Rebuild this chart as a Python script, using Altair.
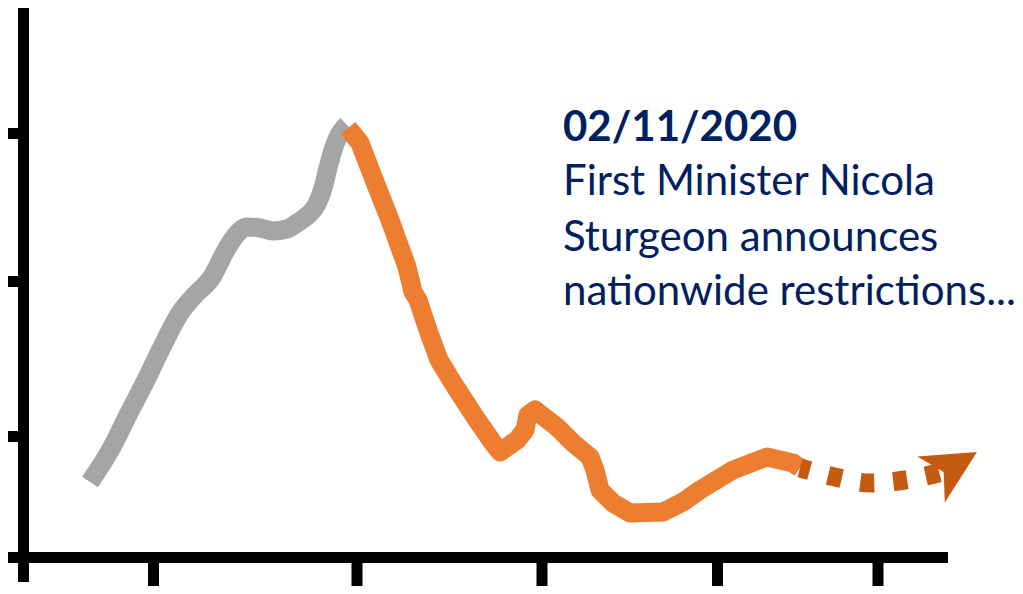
import altair as alt
import pandas as pd

# Gray series (before 02/11/2020) - x position, value
gray_x = [90, 112, 129, 146, 162, 180, 194, 212, 226, 236, 247, 260, 273, 287, 297, 308, 317, 323, 328, 333, 338, 347]
gray_y = [112, 147, 181, 214, 247, 281, 298, 317, 344, 359, 367, 366, 363, 365, 371, 379, 390, 406, 426, 444, 457, 469]

# Orange series (after 02/11/2020)
orange_x = [348, 360, 373, 390, 407, 413, 418, 429, 439, 453, 475, 493, 500, 517, 525, 528, 535, 557, 573, 590, 595, 600,
            613, 630, 663, 683, 700, 733, 767, 793, 800]
orange_y = [466, 451, 417, 374, 327, 302, 294, 261, 234, 211, 177, 151, 142, 154, 164, 179, 184, 167, 151, 137, 124, 104,
            91, 81, 82, 92, 104, 124, 137, 131, 126]

# Projected (dashed) continuation
proj_x = [800, 835, 870, 905, 942]
proj_y = [126, 117, 111, 114, 122]

# Arrow head
arrow_x = [954]
arrow_y = [128.3]

# Axis ticks
x_ticks = [153.5, 357, 542, 717.5, 878]
y_ticks = [157.5, 312.5, 460.5]

# Annotation text
title_line = ["02/11/2020"]
title_y = [453.3]
text_lines = ["First Minister Nicola", "Sturgeon announces", "nationwide restrictions..."]
text_y = [399, 343.3, 289]
text_x = 563

W, H = 1007, 578
xs = alt.Scale(domain=[8, 8 + W], nice=False, zero=False)
ys = alt.Scale(domain=[8, 8 + H], nice=False, zero=False)

gray_df = pd.DataFrame({"x": gray_x, "y": gray_y, "i": range(len(gray_x))})
orange_df = pd.DataFrame({"x": orange_x, "y": orange_y, "i": range(len(orange_x))})
proj_df = pd.DataFrame({"x": proj_x, "y": proj_y, "i": range(len(proj_x))})
arrow_df = pd.DataFrame({"x": arrow_x, "y": arrow_y})
xt_df = pd.DataFrame({"x": x_ticks, "y": [8] * len(x_ticks), "y2": [36.5] * len(x_ticks)})
yt_df = pd.DataFrame({"y": y_ticks, "x": [8] * len(y_ticks), "x2": [23.5] * len(y_ticks)})
yaxis_df = pd.DataFrame({"x": [23.5], "y": [12], "y2": [586]})
xaxis_df = pd.DataFrame({"y": [36.5], "x": [8], "x2": [948]})
title_df = pd.DataFrame({"t": title_line, "y": title_y, "x": [text_x]})
text_df = pd.DataFrame({"t": text_lines, "y": text_y, "x": [text_x] * len(text_lines)})


def X(f="x"):
    return alt.X(f"{f}:Q", scale=xs, axis=None)


def Y(f="y"):
    return alt.Y(f"{f}:Q", scale=ys, axis=None)


LW = 19
gray = alt.Chart(gray_df).mark_line(color="#A5A5A5", strokeWidth=LW, interpolate="monotone",
                                    strokeCap="butt", strokeJoin="round").encode(
    x=X(), y=Y(), order="i:Q")
orange = alt.Chart(orange_df).mark_line(color="#ED7D31", strokeWidth=LW, interpolate="linear",
                                        strokeCap="butt", strokeJoin="round").encode(
    x=X(), y=Y(), order="i:Q")
proj = alt.Chart(proj_df).mark_line(color="#C55A11", strokeWidth=LW, interpolate="monotone",
                                    strokeCap="butt", strokeDash=[14, 19], strokeDashOffset=4).encode(
    x=X(), y=Y(), order="i:Q")
arrow = alt.Chart(arrow_df).mark_point(shape="M1,0 L-1,-1 L-0.45,0 L-1,1 Z", filled=True, size=2873,
                                       angle=329, color="#C55A11", opacity=1, strokeWidth=0).encode(
    x=X(), y=Y())

yaxis = alt.Chart(yaxis_df).mark_rule(color="black", strokeWidth=11).encode(
    x=X(), y=Y(), y2="y2:Q")
xaxis = alt.Chart(xaxis_df).mark_rule(color="black", strokeWidth=11).encode(
    x=X(), x2="x2:Q", y=Y())
xt = alt.Chart(xt_df).mark_rule(color="black", strokeWidth=11).encode(
    x=X(), y=Y(), y2="y2:Q")
yt = alt.Chart(yt_df).mark_rule(color="black", strokeWidth=11).encode(
    x=X(), x2="x2:Q", y=Y())

FS = 42
title_txt = alt.Chart(title_df).mark_text(font="Lato", fontSize=FS, fontWeight="bold", color="#002060",
                                          align="left", baseline="alphabetic").encode(
    x=X(), y=Y(), text="t:N")
txt = alt.Chart(text_df).mark_text(font="Lato", fontSize=FS, color="#002060", align="left",
                                   baseline="alphabetic").encode(
    x=X(), y=Y(), text="t:N")

chart = alt.layer(gray, orange, proj, arrow, yaxis, xaxis, xt, yt, title_txt, txt).properties(
    width=W, height=H, padding=0, autosize=alt.AutoSizeParams(type="none")
).configure_view(stroke=None)

chart.save("out.html", embed_options={"renderer": "svg", "actions": False})
